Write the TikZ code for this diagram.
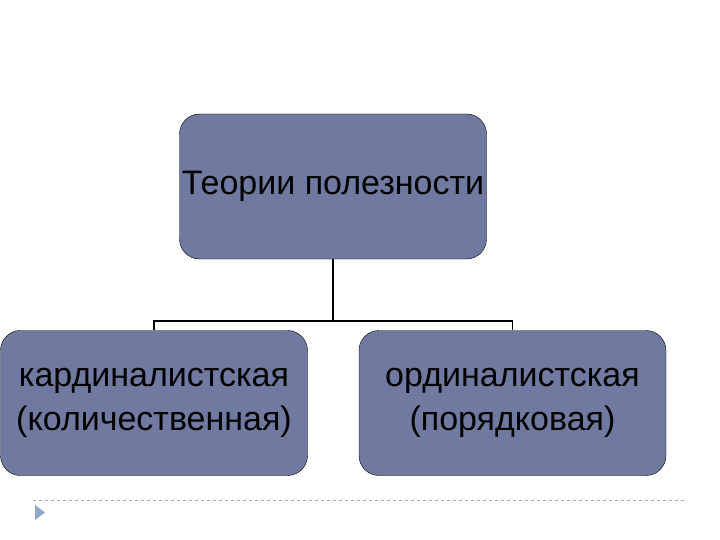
\documentclass[tikz,border=0pt]{standalone}
\usepackage{fontspec}
\setmainfont{Liberation Sans}
\usetikzlibrary{positioning}

\definecolor{boxfill}{RGB}{112,122,160}
\definecolor{rulegray}{RGB}{170,170,170}
\definecolor{bullet}{RGB}{140,170,200}

\begin{document}
\begin{tikzpicture}[
    x=1pt, y=-1pt,
    theory/.style={draw=black, fill=boxfill, rounded corners=20pt,
        minimum width=307pt, minimum height=145pt, inner sep=0pt,
        align=center, font=\fontsize{34}{44}\selectfont},
    link/.style={draw, line width=1.5pt}
]
    \useasboundingbox (0,0) rectangle (720,540);

    \node[theory] (top)   at (333,186.5) {Теории полезности};
    \node[theory] (left)  at (154,403)   {кардиналистская\\(количественная)};
    \node[theory] (right) at (512.5,403) {ординалистская\\(порядковая)};

    \coordinate (fork) at (333,321);
    \path[link] (top.south) -- (fork);
    \path[link] (left.north) |- (fork) -| (right.north);

    % slide footer
    \draw[rulegray, dashed, line width=0.6pt] (33,500) -- (687,500);
    \fill[bullet] (35,505) -- (45,512.5) -- (35,520) -- cycle;
\end{tikzpicture}
\end{document}
